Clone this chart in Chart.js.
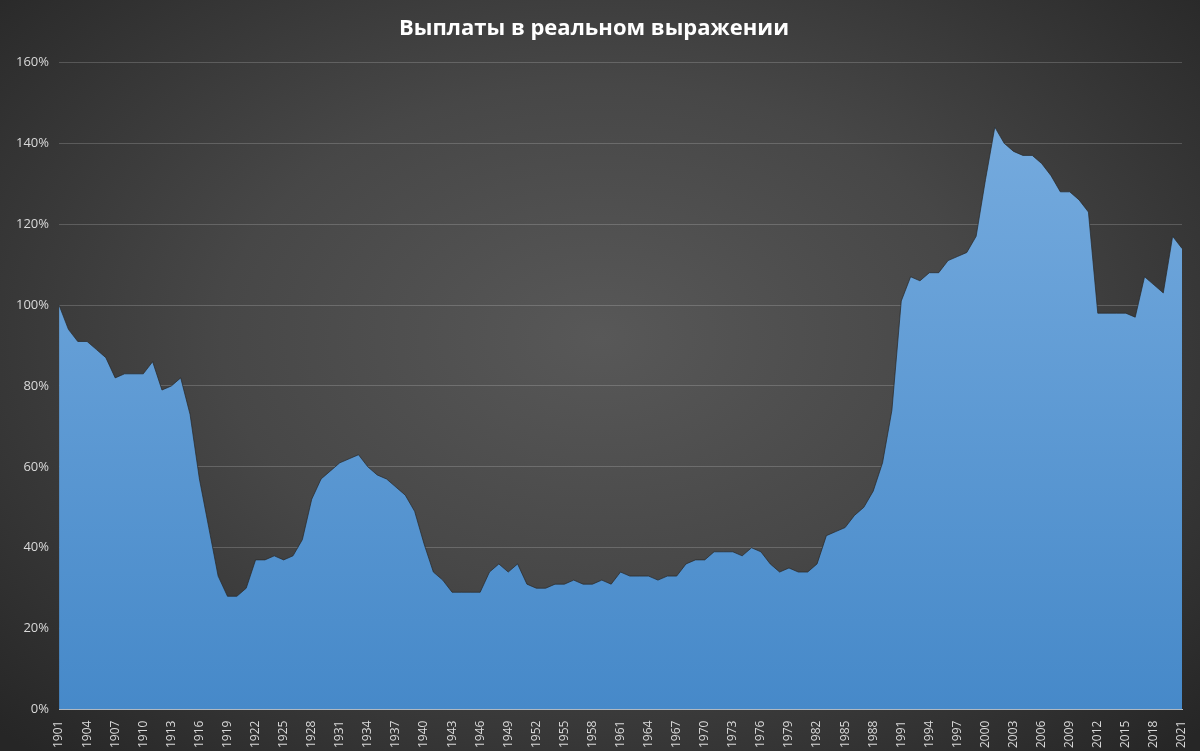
<!DOCTYPE html>
<html><head><meta charset="utf-8">
<script src="https://cdn.jsdelivr.net/npm/chart.js@4"></script>
<style>
html,body{margin:0;padding:0;width:1200px;height:751px;overflow:hidden;
background:radial-gradient(ellipse 70% 75% at 50% 45%, #585858 0%, #474747 45%, #2c2c2c 90%, #262626 100%);}
#wrap{position:absolute;left:0;top:0;width:1200px;height:751px;}
</style></head><body>
<div id="wrap"><canvas id="c" width="1200" height="751"></canvas></div>
<script>
const startYear = 1901;
const years = [];
for (let y = 1901; y <= 2021; y++) years.push(String(y));
const payouts = [100,94,91,91,89,87,82,83,83,83,86,79,80,82,73,57,45,33,28,28,
30,37,37,38,37,38,42,52,57,59,61,62,63,60,58,57,55,53,49,41,
34,32,29,29,29,29,34,36,34,36,31,30,30,31,31,32,31,31,32,31,
34,33,33,33,32,33,33,36,37,37,39,39,39,38,40,39,36,34,35,34,
34,36,43,44,45,48,50,54,61,74,101,107,106,108,108,111,112,113,117,131,
144,140,138,137,137,135,132,128,128,126,123,98,98,98,98,97,107,105,103,117,114];
const title = 'Выплаты в реальном выражении';

const ctx = document.getElementById('c').getContext('2d');
new Chart(ctx, {
  type: 'line',
  data: { labels: years, datasets: [{
    data: payouts,
    fill: 'origin',
    borderColor: 'rgba(40,40,40,0.7)',
    borderWidth: 1,
    pointRadius: 0,
    tension: 0,
    backgroundColor: (c) => {
      const a = c.chart.chartArea;
      if (!a) return '#5b9bd5';
      const g = c.chart.ctx.createLinearGradient(0, a.top, 0, a.bottom);
      g.addColorStop(0, '#7aaee0');
      g.addColorStop(1, '#4689c9');
      return g;
    }
  }]},
  options: {
    responsive: false, animation: false,
    layout: { padding: { left: 6, right: 18, top: 0, bottom: 0 } },
    plugins: {
      legend: { display: false }, tooltip: { enabled: false },
      title: { display: true, text: title, color: '#ffffff',
        font: { family: 'Open Sans', size: 22, weight: 'bold' },
        padding: { top: 16, bottom: 20 } }
    },
    scales: {
      x: {
        offset: false,
        grid: { display: false },
        border: { color: '#bfbfbf' },
        ticks: { color: '#d9d9d9', font: { family: 'Open Sans', size: 12 },
          autoSkip: false, maxRotation: 90, minRotation: 90,
          callback: (v, i) => (i % 3 === 0 ? years[i] : '') }
      },
      y: {
        min: 0, max: 160,
        grid: { color: 'rgba(255,255,255,0.18)', drawTicks: false },
        border: { display: false },
        ticks: { stepSize: 20, color: '#d9d9d9', padding: 10,
          font: { family: 'Open Sans', size: 13 },
          callback: v => v + '%' }
      }
    }
  }
});
</script>
</body></html>
